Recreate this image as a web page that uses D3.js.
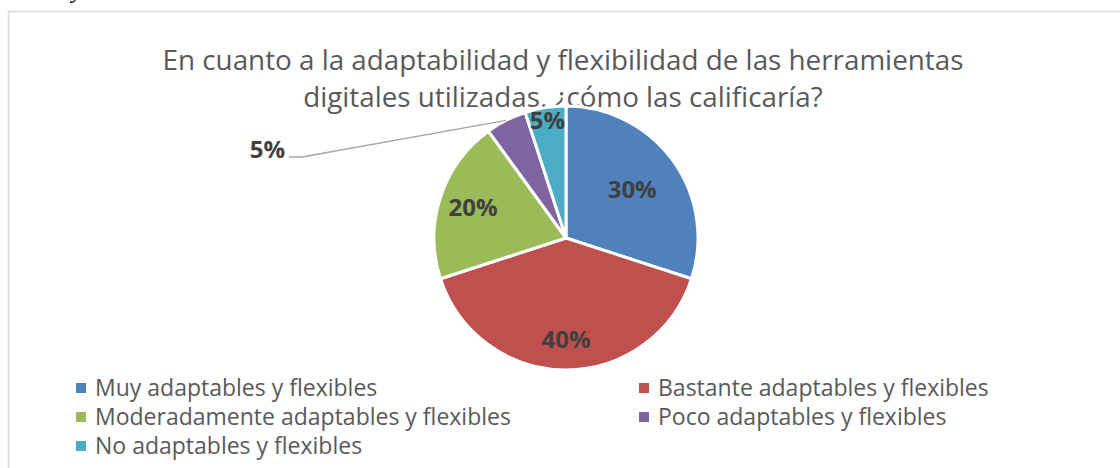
<!DOCTYPE html>
<html>
<head>
<meta charset="utf-8">
<script src="https://cdn.jsdelivr.net/npm/d3@7"></script>
<style>
	body { margin: 0; background: #fff; }
	text { font-family: "Open Sans", "Liberation Sans", sans-serif; }
</style>
</head>
<body>
<div id="chart"></div>
<script>

var categories = ["Muy adaptables y flexibles", "Bastante adaptables y flexibles",
	"Moderadamente adaptables y flexibles", "Poco adaptables y flexibles", "No adaptables y flexibles"];
var values = [30, 40, 20, 5, 5];
var colors = ["#4F81BD", "#C0504D", "#9BBB59", "#8064A2", "#4BACC6"];
var titleLines = ["En cuanto a la adaptabilidad y flexibilidad de las herramientas",
	"digitales utilizadas, ¿cómo las calificaría?"];


var width = 1120, height = 468,
	cx = 566, cy = 238, radius = 132;

var svg = d3.select("#chart")
	.append("svg")
		.attr("width", width)
		.attr("height", height);

// stray text from the page above the chart
svg.append("text")
	.attr("x", 72).attr("y", -2)
	.attr("font-style", "italic")
	.attr("font-size", 24)
	.style("font-family", "Liberation Serif")
	.text("y");

// chart frame
svg.append("rect")
	.attr("x", 8.5).attr("y", 11.5)
	.attr("width", 1130).attr("height", 480)
	.attr("fill", "none")
	.attr("stroke", "#d9d9d9")
	.attr("stroke-width", 1.5);

svg.append("g")
	.selectAll("text")
	.data(titleLines)
	.enter().append("text")
		.attr("x", 563)
		.attr("y", function(d, i) { return 70 + i * 37; })
		.attr("text-anchor", "middle")
		.attr("font-size", 27.8)
		.attr("fill", "#595959")
		.text(function(d) { return d; });


var pie = d3.pie().sort(null).value(function(d) { return d; });
var arcs = pie(values);
var arc = d3.arc().innerRadius(0).outerRadius(radius);

var g = svg.append("g")
	.attr("transform", "translate(" + cx + "," + cy + ")");

g.selectAll("path")
	.data(arcs)
	.enter().append("path")
		.attr("d", arc)
		.attr("fill", function(d, i) { return colors[i]; })
		.attr("stroke", "#fff")
		.attr("stroke-width", 3)
		.attr("stroke-linejoin", "round");

// label radius as a fraction of the pie radius (inside labels), null = outside with leader
var labelFactor = [0.62, 0.77, 0.74, null, 0.9];

function polar(a, r) {
	return [Math.sin(a) * r, -Math.cos(a) * r];
}

arcs.forEach(function(d, i) {
	var mid = (d.startAngle + d.endAngle) / 2;
	var lbl = d3.format(".0%")(d.value / d3.sum(values));

	if(labelFactor[i] !== null) {
		var p = polar(mid, radius * labelFactor[i]);
		g.append("text")
			.attr("x", p[0]).attr("y", p[1])
			.attr("dy", "0.35em")
			.attr("text-anchor", "middle")
			.attr("font-size", 24)
			.attr("font-weight", "bold")
			.attr("fill", "#404040")
			.text(lbl);
	} else {
		var edge = polar(mid, radius),
			bend = [-264, -81],
			end = [-277, -81];
		g.append("polyline")
			.attr("points", [edge, bend, end].map(function(p) { return p.join(","); }).join(" "))
			.attr("fill", "none")
			.attr("stroke", "#a6a6a6")
			.attr("stroke-width", 1.3);
		g.append("text")
			.attr("x", end[0] - 4).attr("y", end[1] - 7)
			.attr("dy", "0.35em")
			.attr("text-anchor", "end")
			.attr("font-size", 24)
			.attr("font-weight", "bold")
			.attr("fill", "#404040")
			.text(lbl);
	}
});


// legend: two columns
var legend = svg.append("g")
	.selectAll("g")
	.data(categories)
	.enter().append("g")
		.attr("transform", function(d, i) {
			return "translate(" + (i % 2 ? 639 : 76) + "," + (388 + Math.floor(i / 2) * 29) + ")";
		});

legend.append("rect")
	.attr("x", 0).attr("y", -5)
	.attr("width", 10).attr("height", 10)
	.attr("fill", function(d, i) { return colors[i]; });

legend.append("text")
	.attr("x", 19)
	.attr("dy", "0.35em")
	.attr("font-size", 23)
	.attr("fill", "#595959")
	.text(function(d) { return d; });

</script>
</body>
</html>
